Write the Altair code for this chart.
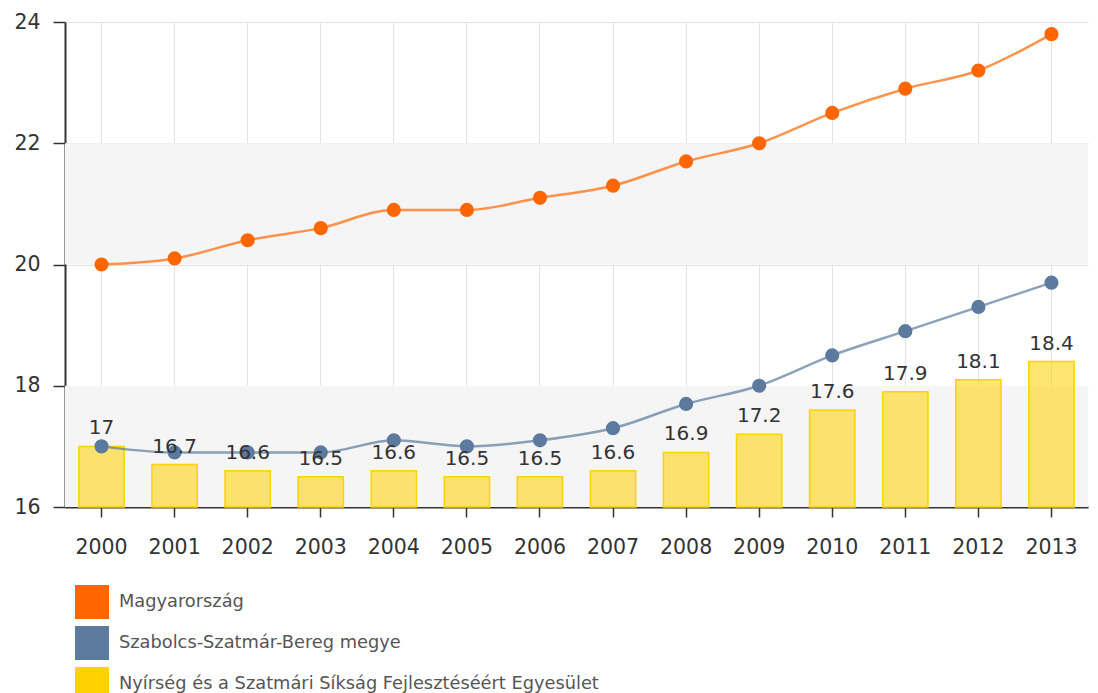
import altair as alt
import pandas as pd

years = [str(y) for y in range(2000, 2014)]
hungary = [20.0, 20.1, 20.4, 20.6, 20.9, 20.9, 21.1, 21.3, 21.7, 22.0, 22.5, 22.9, 23.2, 23.8]
szabolcs = [17.0, 16.9, 16.9, 16.9, 17.1, 17.0, 17.1, 17.3, 17.7, 18.0, 18.5, 18.9, 19.3, 19.7]
nyirseg = [17.0, 16.7, 16.6, 16.5, 16.6, 16.5, 16.5, 16.6, 16.9, 17.2, 17.6, 17.9, 18.1, 18.4]

series_names = ["Magyarország", "Szabolcs-Szatmár-Bereg megye",
                "Nyírség és a Szatmári Síkság Fejlesztéséért Egyesület"]
series_colors = ["#FF6600", "#5B7A9E", "#FFD200"]

band_lo = [16, 20]
band_hi = [18, 22]

lines_df = pd.DataFrame({
    "year": years * 2,
    "value": hungary + szabolcs,
    "series": [series_names[0]] * len(years) + [series_names[1]] * len(years),
})
bar_df = pd.DataFrame({"year": years, "value": nyirseg, "series": series_names[2]})
band_df = pd.DataFrame({"lo": band_lo, "hi": band_hi})

font = "DejaVu Sans"
yscale = alt.Scale(domain=[16, 24], zero=False, nice=False)
xscale = alt.Scale(domain=years, paddingInner=0.38, paddingOuter=0.19)
color = alt.Color("series:N", scale=alt.Scale(domain=series_names, range=series_colors),
                  sort=series_names,
                  legend=alt.Legend(title=None, orient="none", legendX=10, legendY=563,
                                    symbolType="square", symbolSize=1156,
                                    symbolOpacity=1, symbolStrokeWidth=0,
                                    rowPadding=7, labelOffset=10, labelFont=font,
                                    labelFontSize=17.8, labelColor="#555555",
                                    labelLimit=900, padding=0))

bands = alt.Chart(band_df).mark_rect(color="#F5F5F5").encode(
    y=alt.Y("lo:Q", scale=yscale), y2="hi:Q")

xaxis = alt.Axis(title=None, labelAngle=0, grid=True, gridColor="#E3E3E3", bandPosition=0.5,
                 domainColor="#333333", domainWidth=2, tickColor="#333333", tickSize=10,
                 tickWidth=1.5, labelFont=font, labelFontSize=20.5, labelColor="#333333",
                 labelPadding=20)
yaxis = alt.Axis(title=None, values=[16, 18, 20, 22, 24], format="d", grid=True,
                 gridColor="#E3E3E3",
                 domainColor="#333333", domainWidth=2, tickColor="#333333", tickSize=12,
                 tickWidth=1.5, labelFont=font, labelFontSize=20.5, labelColor="#333333",
                 labelPadding=13)

bars = alt.Chart(bar_df).mark_bar(fillOpacity=0.55, stroke="#FFD200", strokeWidth=1.5).encode(
    x=alt.X("year:O", scale=xscale, axis=xaxis),
    y=alt.Y("value:Q", scale=yscale, axis=yaxis),
    y2=alt.datum(16),
    color=color,
)

bar_text = alt.Chart(bar_df).mark_text(baseline="alphabetic", dy=-12, font=font, fontSize=20,
                                       color="#333333").encode(
    x=alt.X("year:O", scale=xscale), y=alt.Y("value:Q", scale=yscale), text="value:Q")

lines = alt.Chart(lines_df).mark_line(interpolate="monotone", strokeWidth=2.5, opacity=0.7).encode(
    x=alt.X("year:O", scale=xscale), y=alt.Y("value:Q", scale=yscale), color=color)

points = alt.Chart(lines_df).mark_point(filled=True, size=200, opacity=1).encode(
    x=alt.X("year:O", scale=xscale), y=alt.Y("value:Q", scale=yscale), color=color)

chart = alt.layer(bands, bars, lines, points, bar_text).properties(
    width=1023, height=485,
    autosize=alt.AutoSizeParams(type="none"),
    padding={"left": 57, "top": 14, "right": 2, "bottom": 186},
).configure_view(stroke=None)

chart.save("out.html", embed_options={"renderer": "svg", "actions": False})
